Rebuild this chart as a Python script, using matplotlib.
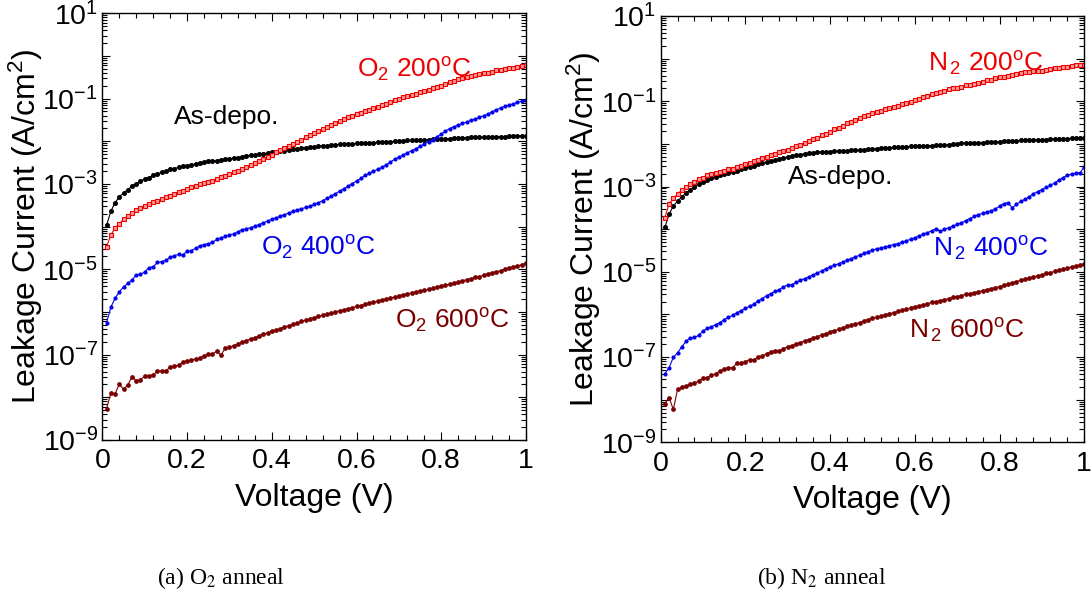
import numpy as np
import matplotlib
matplotlib.use("Agg")
import matplotlib.pyplot as plt
from matplotlib.ticker import FixedLocator, LogLocator, MultipleLocator, FuncFormatter, NullFormatter

plt.rcParams['font.family'] = ['Liberation Sans', 'DejaVu Sans']
plt.rcParams['mathtext.fontset'] = 'custom'
plt.rcParams['mathtext.rm'] = 'Liberation Sans'
plt.rcParams['mathtext.it'] = 'Liberation Sans:italic'
plt.rcParams['mathtext.bf'] = 'Liberation Sans:bold'

# Gate voltage sweep, 0.01 V to 1.00 V in 0.01 V steps
voltage = np.arange(1, 101) / 100.0

# log10 of leakage current density (A/cm^2)
# ---- (a) O2 anneal ----
o2_asdepo_log = [
    -3.97, -3.64, -3.44, -3.30, -3.21, -3.13, -3.05, -2.99, -2.93, -2.88,
    -2.85, -2.80, -2.76, -2.73, -2.70, -2.66, -2.64, -2.61, -2.59, -2.57,
    -2.55, -2.53, -2.51, -2.49, -2.47, -2.46, -2.45, -2.44, -2.42, -2.41,
    -2.39, -2.38, -2.36, -2.34, -2.33, -2.32, -2.30, -2.29, -2.27, -2.26,
    -2.24, -2.23, -2.22, -2.20, -2.19, -2.18, -2.16, -2.15, -2.14, -2.13,
    -2.12, -2.11, -2.10, -2.09, -2.08, -2.07, -2.07, -2.06, -2.06, -2.05,
    -2.05, -2.04, -2.03, -2.03, -2.02, -2.02, -2.01, -2.01, -2.00, -1.99,
    -1.99, -1.98, -1.98, -1.97, -1.97, -1.96, -1.96, -1.95, -1.95, -1.94,
    -1.94, -1.94, -1.93, -1.93, -1.92, -1.92, -1.91, -1.91, -1.91, -1.90,
    -1.90, -1.90, -1.89, -1.89, -1.89, -1.88, -1.88, -1.88, -1.87, -1.87,
]
o2_200_log = [
    -4.47, -4.20, -4.03, -3.93, -3.83, -3.75, -3.68, -3.61, -3.57, -3.52,
    -3.47, -3.43, -3.39, -3.35, -3.30, -3.27, -3.23, -3.19, -3.16, -3.12,
    -3.08, -3.04, -3.01, -2.98, -2.95, -2.92, -2.88, -2.84, -2.81, -2.77,
    -2.73, -2.69, -2.65, -2.61, -2.56, -2.51, -2.46, -2.41, -2.36, -2.31,
    -2.26, -2.21, -2.16, -2.11, -2.06, -2.01, -1.96, -1.91, -1.86, -1.81,
    -1.76, -1.71, -1.67, -1.62, -1.57, -1.52, -1.48, -1.44, -1.40, -1.37,
    -1.33, -1.30, -1.27, -1.23, -1.19, -1.16, -1.12, -1.08, -1.04, -1.00,
    -0.97, -0.94, -0.91, -0.88, -0.85, -0.82, -0.79, -0.76, -0.73, -0.70,
    -0.66, -0.62, -0.59, -0.55, -0.52, -0.49, -0.47, -0.45, -0.43, -0.41,
    -0.39, -0.37, -0.34, -0.32, -0.31, -0.29, -0.27, -0.25, -0.24, -0.22,
]
o2_400_log = [
    -6.25, -5.89, -5.68, -5.53, -5.41, -5.33, -5.25, -5.13, -5.12, -5.06,
    -4.96, -4.94, -4.84, -4.82, -4.79, -4.72, -4.68, -4.65, -4.66, -4.58,
    -4.56, -4.51, -4.45, -4.42, -4.40, -4.37, -4.30, -4.26, -4.23, -4.19,
    -4.17, -4.12, -4.07, -4.05, -4.02, -3.99, -3.95, -3.91, -3.87, -3.83,
    -3.79, -3.76, -3.72, -3.68, -3.64, -3.61, -3.58, -3.55, -3.52, -3.48,
    -3.44, -3.39, -3.34, -3.28, -3.23, -3.17, -3.11, -3.05, -2.99, -2.93,
    -2.87, -2.80, -2.75, -2.70, -2.66, -2.61, -2.55, -2.49, -2.42, -2.37,
    -2.32, -2.27, -2.22, -2.17, -2.12, -2.06, -2.01, -1.96, -1.89, -1.83,
    -1.76, -1.70, -1.66, -1.62, -1.58, -1.55, -1.51, -1.48, -1.44, -1.40,
    -1.36, -1.31, -1.26, -1.22, -1.18, -1.15, -1.12, -1.09, -1.06, -1.04,
]
o2_600_log = [
    -8.27, -7.90, -7.92, -7.69, -7.81, -7.71, -7.52, -7.61, -7.59, -7.50,
    -7.49, -7.48, -7.38, -7.38, -7.38, -7.29, -7.27, -7.25, -7.17, -7.15,
    -7.13, -7.10, -7.08, -7.03, -6.99, -6.99, -6.92, -7.01, -6.85, -6.83,
    -6.79, -6.75, -6.71, -6.67, -6.63, -6.60, -6.56, -6.52, -6.49, -6.45,
    -6.42, -6.39, -6.35, -6.32, -6.29, -6.26, -6.22, -6.19, -6.16, -6.13,
    -6.10, -6.08, -6.05, -6.03, -6.00, -5.97, -5.95, -5.92, -5.90, -5.87,
    -5.85, -5.82, -5.80, -5.77, -5.75, -5.72, -5.70, -5.67, -5.65, -5.62,
    -5.60, -5.58, -5.55, -5.53, -5.51, -5.49, -5.47, -5.44, -5.42, -5.40,
    -5.37, -5.35, -5.32, -5.30, -5.27, -5.24, -5.22, -5.19, -5.17, -5.14,
    -5.11, -5.08, -5.06, -5.03, -5.00, -4.97, -4.94, -4.92, -4.89, -4.86,
]

# ---- (b) N2 anneal ----
n2_asdepo_log = [
    -3.96, -3.65, -3.46, -3.34, -3.24, -3.15, -3.07, -3.01, -2.95, -2.90,
    -2.85, -2.81, -2.78, -2.74, -2.71, -2.68, -2.65, -2.63, -2.60, -2.57,
    -2.54, -2.51, -2.48, -2.45, -2.43, -2.40, -2.38, -2.36, -2.33, -2.31,
    -2.29, -2.27, -2.25, -2.23, -2.22, -2.21, -2.20, -2.19, -2.18, -2.18,
    -2.17, -2.17, -2.16, -2.16, -2.15, -2.15, -2.14, -2.14, -2.13, -2.12,
    -2.11, -2.10, -2.09, -2.09, -2.08, -2.08, -2.07, -2.07, -2.06, -2.06,
    -2.05, -2.05, -2.04, -2.04, -2.03, -2.03, -2.02, -2.02, -2.01, -2.00,
    -1.99, -1.99, -1.98, -1.98, -1.97, -1.97, -1.96, -1.96, -1.95, -1.95,
    -1.94, -1.94, -1.93, -1.93, -1.92, -1.92, -1.91, -1.91, -1.90, -1.90,
    -1.90, -1.89, -1.89, -1.89, -1.88, -1.88, -1.87, -1.87, -1.86, -1.85,
]
n2_200_log = [
    -3.73, -3.41, -3.28, -3.18, -3.08, -3.01, -2.95, -2.89, -2.83, -2.79,
    -2.74, -2.71, -2.68, -2.66, -2.63, -2.60, -2.58, -2.55, -2.52, -2.48,
    -2.45, -2.41, -2.38, -2.34, -2.30, -2.27, -2.24, -2.20, -2.17, -2.14,
    -2.10, -2.06, -2.02, -1.98, -1.94, -1.89, -1.85, -1.80, -1.76, -1.71,
    -1.66, -1.62, -1.57, -1.52, -1.48, -1.43, -1.39, -1.35, -1.32, -1.28,
    -1.25, -1.22, -1.19, -1.16, -1.13, -1.10, -1.07, -1.04, -1.01, -0.98,
    -0.94, -0.91, -0.88, -0.84, -0.81, -0.78, -0.75, -0.72, -0.70, -0.68,
    -0.66, -0.63, -0.61, -0.59, -0.57, -0.54, -0.51, -0.49, -0.46, -0.44,
    -0.42, -0.40, -0.38, -0.36, -0.34, -0.32, -0.31, -0.30, -0.29, -0.28,
    -0.26, -0.25, -0.23, -0.22, -0.20, -0.19, -0.18, -0.16, -0.15, -0.14,
]
n2_400_log = [
    -7.39, -7.25, -7.01, -6.90, -6.76, -6.63, -6.55, -6.54, -6.49, -6.39,
    -6.33, -6.29, -6.24, -6.19, -6.12, -6.07, -6.02, -5.96, -5.91, -5.86,
    -5.81, -5.76, -5.68, -5.63, -5.56, -5.51, -5.46, -5.42, -5.35, -5.31,
    -5.30, -5.25, -5.20, -5.16, -5.12, -5.07, -5.03, -4.98, -4.93, -4.88,
    -4.85, -4.81, -4.77, -4.73, -4.69, -4.65, -4.61, -4.57, -4.53, -4.49,
    -4.46, -4.44, -4.42, -4.39, -4.36, -4.34, -4.31, -4.27, -4.24, -4.20,
    -4.16, -4.12, -4.08, -4.04, -3.99, -4.05, -4.00, -3.97, -3.93, -3.89,
    -3.85, -3.80, -3.75, -3.70, -3.66, -3.63, -3.60, -3.57, -3.53, -3.46,
    -3.40, -3.38, -3.50, -3.42, -3.35, -3.30, -3.24, -3.17, -3.12, -3.07,
    -3.02, -2.97, -2.92, -2.85, -2.79, -2.74, -2.71, -2.69, -2.68, -2.54,
]
n2_600_log = [
    -8.09, -7.95, -8.23, -7.76, -7.71, -7.68, -7.64, -7.61, -7.56, -7.49,
    -7.48, -7.43, -7.39, -7.33, -7.28, -7.25, -7.25, -7.15, -7.14, -7.11,
    -7.06, -7.07, -7.00, -6.98, -6.92, -6.88, -6.85, -6.86, -6.80, -6.76,
    -6.73, -6.69, -6.66, -6.62, -6.59, -6.55, -6.52, -6.48, -6.45, -6.41,
    -6.38, -6.35, -6.31, -6.28, -6.25, -6.22, -6.19, -6.15, -6.12, -6.09,
    -6.06, -6.04, -6.01, -5.98, -5.96, -5.93, -5.90, -5.88, -5.85, -5.82,
    -5.80, -5.77, -5.75, -5.72, -5.70, -5.68, -5.65, -5.63, -5.60, -5.58,
    -5.56, -5.53, -5.51, -5.49, -5.47, -5.44, -5.42, -5.40, -5.37, -5.35,
    -5.32, -5.29, -5.26, -5.23, -5.20, -5.17, -5.15, -5.12, -5.09, -5.07,
    -5.04, -5.02, -4.99, -4.96, -4.94, -4.91, -4.89, -4.86, -4.84, -4.81,
]

C_BLACK = '#000000'
C_RED = '#ee0000'
C_BLUE = '#0000ee'
C_DRED = '#7a0000'

series_style = {
    'asdepo': dict(color=C_BLACK, marker='o', ms=2.6, mfc=C_BLACK, mec=C_BLACK),
    't200': dict(color=C_RED, marker='s', ms=2.8, mfc='#ff9a9a', mec=C_RED, mew=0.8),
    't400': dict(color=C_BLUE, marker='o', ms=2.0, mfc=C_BLUE, mec=C_BLUE),
    't600': dict(color=C_DRED, marker='o', ms=2.4, mfc=C_DRED, mec=C_DRED),
}

# curve labels: text, left x (V), baseline log10(J), colour
panels = [
    dict(rect=[0.0938, 0.2630, 0.3883, 0.7147],
         data={'asdepo': o2_asdepo_log, 't200': o2_200_log,
               't400': o2_400_log, 't600': o2_600_log},
         labels=[
             ('As-depo.', 0.169, -1.60, C_BLACK),
             (r'O$_2$ 200$^{\rm o}$C', 0.602, -0.51, C_RED),
             (r'O$_2$ 400$^{\rm o}$C', 0.375, -4.69, C_BLUE),
             (r'O$_2$ 600$^{\rm o}$C', 0.691, -6.38, C_DRED),
         ],
         caption=(0.203, r'(a) O$_2$ anneal')),
    dict(rect=[0.6055, 0.2591, 0.3883, 0.7141],
         data={'asdepo': n2_asdepo_log, 't200': n2_200_log,
               't400': n2_400_log, 't600': n2_600_log},
         labels=[
             ('As-depo.', 0.300, -2.93, C_BLACK),
             (r'N$_{\,2}$ 200$^{\rm o}$C', 0.632, -0.31, C_RED),
             (r'N$_{\,2}$ 400$^{\rm o}$C', 0.642, -4.65, C_BLUE),
             (r'N$_{\,2}$ 600$^{\rm o}$C', 0.586, -6.57, C_DRED),
         ],
         caption=(0.753, r'(b) N$_2$ anneal')),
]


def decade_label(val, pos):
    e = int(round(np.log10(val)))
    return r'$10^{%d}$' % e if e % 2 == 1 else ''


fig = plt.figure(figsize=(10.91, 5.97), dpi=100)

for p in panels:
    ax = fig.add_axes(p['rect'])
    for key in ('asdepo', 't200', 't400', 't600'):
        st = series_style[key]
        ax.plot(voltage, 10.0 ** np.asarray(p['data'][key]), lw=0.8, **st)

    ax.set_yscale('log')
    ax.set_xlim(0, 1)
    ax.set_ylim(1e-9, 1e1)

    ax.xaxis.set_major_locator(MultipleLocator(0.2))
    ax.xaxis.set_minor_locator(MultipleLocator(0.04))
    ax.xaxis.set_major_formatter(FuncFormatter(lambda v, pos: '%g' % round(v, 2)))

    ax.yaxis.set_major_locator(FixedLocator([10.0 ** e for e in range(-9, 2)]))
    ax.yaxis.set_minor_locator(LogLocator(base=10, subs=np.arange(2, 10), numticks=20))
    ax.yaxis.set_major_formatter(FuncFormatter(decade_label))
    ax.yaxis.set_minor_formatter(NullFormatter())

    ax.tick_params(which='both', direction='in', top=True, right=True, width=0.8)
    ax.tick_params(which='major', length=6)
    ax.tick_params(which='minor', length=3.5)
    ax.tick_params(axis='x', which='major', labelsize=20.5, pad=6)
    ax.tick_params(axis='y', which='major', labelsize=20.5, pad=3)
    for s in ax.spines.values():
        s.set_linewidth(1.0)

    ax.set_xlabel('Voltage (V)', fontsize=23, labelpad=6)
    ax.set_ylabel('Leakage Current (A/cm$^2$)', fontsize=23, labelpad=-2)

    for txt, x, ylog, col in p['labels']:
        ax.text(x, 10.0 ** ylog, txt, color=col, fontsize=19, ha='left', va='baseline')

    cx, ctext = p['caption']
    fig.text(cx, 1 - 578 / 597, ctext, fontsize=17, ha='center', va='center',
             family='Liberation Serif', math_fontfamily='stix')

fig.savefig('out.png', dpi=100)
